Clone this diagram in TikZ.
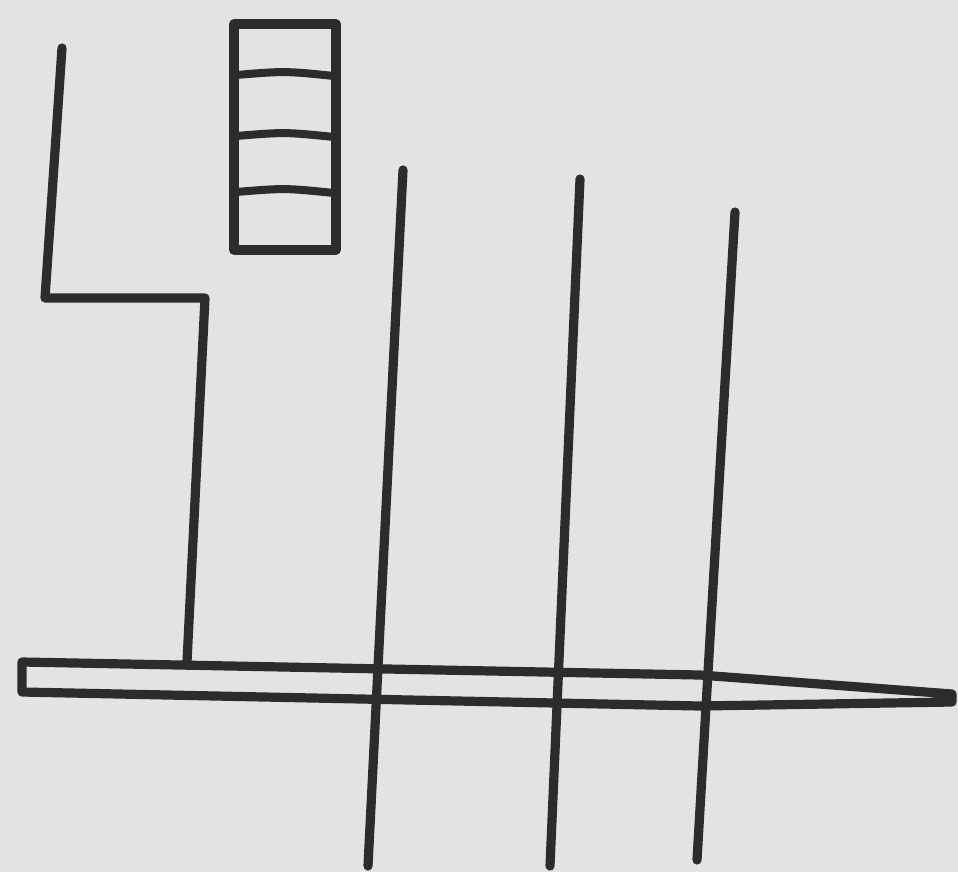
\documentclass[tikz,border=0pt]{standalone}
\usepackage{xcolor}
\usetikzlibrary{calc}
\definecolor{paper}{HTML}{E3E4E1}
\definecolor{ink}{HTML}{2A2D2A}
\tikzset{
  stroke/.style = {draw=ink, line width=2.3mm, line cap=round, line join=round},
  rung/.style   = {draw=ink, line width=2mm, line cap=round},
}

\begin{document}
\begin{tikzpicture}[x=0.25mm,y=-0.25mm]
\fill[paper] (0,0) rectangle (958,872);
\path[use as bounding box] (0,0) rectangle (958,872);

% ---------- the stepped wall ---------------------------------------------
\coordinate (walltop) at (62,48);
\coordinate (wallknee) at (45,298);
\coordinate (wallstep) at (205,298);
\coordinate (wallfoot) at (187,662);
\draw[stroke] (walltop) -- (wallknee) -- (wallstep) -- (wallfoot);

% ---------- the ladder box ------------------------------------------------
\draw[stroke] (234,24) rectangle (336,250);
\foreach \y in {75,136,192}{
  \draw[rung] (236,\y) .. controls (285,\y-4) .. (334,\y+1);
}

% ---------- the three posts ----------------------------------------------
\draw[stroke] (403,170) -- (368,866);
\draw[stroke] (580,179) -- (550,866);
\draw[stroke] (735,212) -- (697,860);

% ---------- the long bar -------------------------------------------------
\draw[stroke] (22,662) -- (700,675) -- (952,694) -- (952,702)
  -- (700,706) -- (22,692) -- cycle;

\end{tikzpicture}
\end{document}
